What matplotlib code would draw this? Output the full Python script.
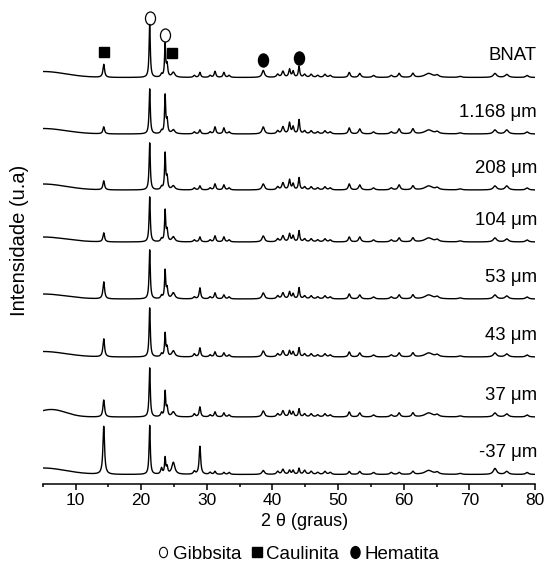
import numpy as np
import matplotlib
matplotlib.use('Agg')
import matplotlib.pyplot as plt
from matplotlib.path import Path
from matplotlib.lines import Line2D
from matplotlib.transforms import Affine2D

plt.rcParams['font.family'] = ['Liberation Sans', 'DejaVu Sans']

# peak table (2 theta, degrees) and peak widths (FWHM)
peak_pos = [14.3, 21.3, 23.1, 23.65, 23.95, 24.9, 28.1, 28.95, 30.5, 31.25, 32.6, 33.4,
            38.6, 40.8, 41.6, 42.6, 43.15, 44.05, 44.9, 45.9, 46.9, 48.0, 48.8,
            51.7, 53.3, 55.4, 58.1, 59.3, 61.4, 63.8, 65.1, 68.6, 73.9, 75.7, 78.8]
peak_fwhm = [0.30, 0.22, 0.30, 0.20, 0.25, 0.55, 0.35, 0.28, 0.35, 0.30, 0.30, 0.35,
             0.45, 0.40, 0.40, 0.30, 0.30, 0.25, 0.40, 0.40, 0.40, 0.40, 0.40,
             0.35, 0.40, 0.45, 0.45, 0.40, 0.40, 1.40, 0.60, 0.60, 0.60, 0.60, 0.50]

# peak intensities (u.a) per sample, same order as peak_pos
h_bnat = [13, 53, 3, 33, 12, 5, 2, 5, 2, 6, 5, 2, 7, 3, 6, 8, 6, 11, 3, 3, 2, 3, 2,
          5, 4, 2, 2, 4, 4, 4, 2, 1, 4, 3, 2]
h_1168 = [7, 45, 3, 38, 13, 4, 2, 4, 2, 7, 6, 2, 7, 3, 7, 11, 7, 14, 3, 3, 2, 3, 2,
          6, 5, 2, 2, 5, 5, 4, 2, 1, 4, 4, 2]
h_208 = [9, 47, 3, 36, 12, 4, 2, 4, 2, 6, 5, 2, 6, 3, 7, 10, 6, 12, 3, 3, 2, 3, 2,
         6, 5, 2, 2, 5, 4, 4, 2, 1, 4, 4, 2]
h_104 = [9, 45, 3, 31, 11, 5, 2, 5, 2, 6, 5, 2, 6, 3, 6, 8, 6, 11, 3, 3, 2, 3, 2,
         5, 5, 2, 2, 4, 4, 4, 2, 1, 4, 3, 2]
h_53 = [17, 49, 3, 28, 10, 6, 2, 11, 2, 6, 4, 2, 6, 3, 6, 7, 5, 11, 3, 3, 2, 3, 2,
        5, 4, 2, 2, 4, 4, 4, 2, 1, 4, 3, 2]
h_43 = [18, 49, 3, 23, 9, 6, 3, 9, 2, 5, 4, 2, 6, 3, 6, 6, 5, 9, 3, 3, 2, 3, 2,
        5, 4, 2, 2, 4, 4, 4, 2, 1, 4, 3, 2]
h_37 = [17, 49, 4, 25, 9, 5, 3, 10, 2, 5, 4, 2, 6, 3, 6, 6, 5, 8, 3, 3, 2, 3, 2,
        5, 4, 2, 2, 4, 4, 4, 2, 1, 4, 3, 2]
h_m37 = [48, 49, 6, 16, 7, 12, 3, 28, 2, 3, 2, 2, 4, 3, 5, 4, 4, 6, 4, 3, 2, 3, 2,
         3, 3, 2, 2, 2, 3, 4, 2, 1, 6, 3, 2]

samples = ['BNAT', '1.168 μm', '208 μm', '104 μm', '53 μm', '43 μm', '37 μm', '-37 μm']
offsets = [406.5, 350, 294, 242, 185, 127, 67, 9.5]
# low angle background
bg_amp = [6, 5.5, 6, 5, 5, 5.5, 7.5, 6.5]
bg_center = [5, 5, 5, 5, 5, 5, 6.3, 5]
bg_sigma = [3.5, 3.5, 3.5, 3.5, 3.5, 3.5, 2.2, 3.5]

# phase markers above BNAT
ann_pos = [14.3, 21.3, 23.65, 24.75, 38.6, 44.05]
ann_phase = ['c', 'g', 'g', 'c', 'h', 'h']
ann_gap = [12, 7, 7, 20, 10, 8]

heights = [h_bnat, h_1168, h_208, h_104, h_53, h_43, h_37, h_m37]
tt = np.linspace(5, 80, 4000)


def pattern(h, off, a, c, s):
    y = off + a * np.exp(-(tt - c) ** 2 / (2 * s ** 2))
    for p, w, hh in zip(peak_pos, peak_fwhm, h):
        y = y + hh / (1 + ((tt - p) / (w / 2)) ** 2)
    return y


fig = plt.figure(figsize=(5.44, 5.69), dpi=100)
ax = fig.add_axes([42.7 / 544, 85 / 569, 492.3 / 544, 479 / 569])

curves = []
for i, name in enumerate(samples):
    y = pattern(heights[i], offsets[i], bg_amp[i], bg_center[i], bg_sigma[i])
    curves.append(y)
    ax.plot(tt, y, color='black', lw=1.0)
    ax.text(80.3, offsets[i] + 22, name, ha='right', va='center', fontsize=13.4,
            clip_on=False)

ellipse = Path.unit_circle().transformed(Affine2D().scale(0.77, 1))
mk = {'g': dict(marker=ellipse, ms=9.4, mfc='none', mec='black', mew=0.9),
      'c': dict(marker='s', ms=7.2, mfc='black', mec='black'),
      'h': dict(marker=ellipse, ms=9.4, mfc='black', mec='black')}
for p, ph, gap in zip(ann_pos, ann_phase, ann_gap):
    ytop = np.interp(p, tt, curves[0])
    ax.plot([p], [ytop + gap], ls='none', clip_on=False, **mk[ph])

ax.set_xlim(5, 80)
ax.set_ylim(0, 479)
for s in ['left', 'right', 'top']:
    ax.spines[s].set_visible(False)
ax.spines['bottom'].set_linewidth(1.1)
ax.set_yticks([])
ax.set_xticks(np.arange(10, 81, 10))
ax.set_xticks(np.arange(5, 80, 10), minor=True)
ax.tick_params(axis='x', which='major', direction='out', length=4.5, width=1.1,
               labelsize=12.5, pad=2)
ax.tick_params(axis='x', which='minor', direction='out', length=2.5, width=1.1)

fig.text(20 / 544, 1 - 240 / 569, 'Intensidade (u.a)', rotation=90, ha='center',
         va='center', fontsize=14.5)
fig.text(305 / 544, 1 - 521 / 569, '2 θ (graus)', ha='center', va='center', fontsize=13)

handles = [Line2D([], [], ls='none', marker=ellipse, ms=7.5, mfc='none', mec='black', mew=0.8),
           Line2D([], [], ls='none', marker='s', ms=6.5, color='black'),
           Line2D([], [], ls='none', marker=ellipse, ms=8.5, color='black')]
fig.legend(handles, ['Gibbsita', 'Caulinita', 'Hematita'], loc='center',
           bbox_to_anchor=(298 / 544, 1 - 554 / 569), ncol=3, frameon=False,
           fontsize=13.5, handlelength=0.7, handletextpad=0.15, columnspacing=0.5,
           borderpad=0)

fig.savefig('out.png', dpi=100)
